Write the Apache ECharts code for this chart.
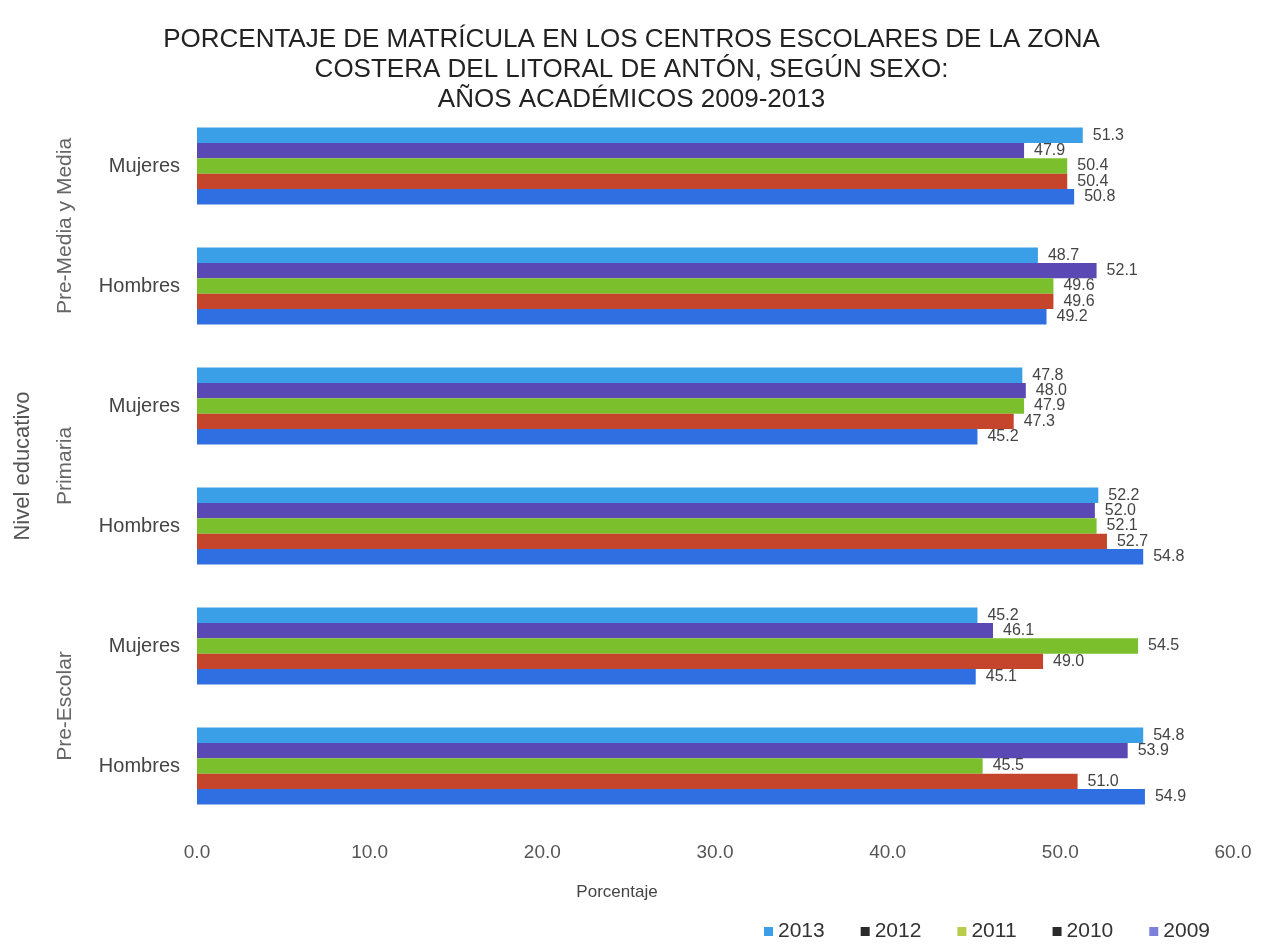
<!DOCTYPE html>
<html>
<head>
<meta charset="utf-8">
<script src="https://cdn.jsdelivr.net/npm/echarts@6/dist/echarts.min.js"></script>
<style>html,body{margin:0;padding:0;background:#fff}#c{width:1263px;height:951px}</style>
</head>
<body>
<div id="c"></div>
<script>
var titleLines = ['PORCENTAJE DE MATRÍCULA EN LOS CENTROS ESCOLARES DE LA ZONA', 'COSTERA DEL LITORAL DE ANTÓN, SEGÚN SEXO:', 'AÑOS ACADÉMICOS 2009-2013'];
var categories = ['Mujeres', 'Hombres', 'Mujeres', 'Hombres', 'Mujeres', 'Hombres'];
var groups = ['Pre-Media y Media', 'Primaria', 'Pre-Escolar'];
var years = ['2013', '2012', '2011', '2010', '2009'];
var v2013 = [51.3, 48.7, 47.8, 52.2, 45.2, 54.8];
var v2012 = [47.9, 52.1, 48.0, 52.0, 46.1, 53.9];
var v2011 = [50.4, 49.6, 47.9, 52.1, 54.5, 45.5];
var v2010 = [50.4, 49.6, 47.3, 52.7, 49.0, 51.0];
var v2009 = [50.8, 49.2, 45.2, 54.8, 45.1, 54.9];
var seriesValues = [v2013, v2012, v2011, v2010, v2009];
var barColors = ['#3a9fe6', '#5a48b4', '#7cbf2c', '#c4452c', '#2f6fe2'];
var legendColors = ['#3a9fe6', '#2b2b2b', '#b9cc4c', '#2b2b2b', '#7b80da'];

var chart = echarts.init(document.getElementById('c'));
var font = 'Liberation Sans, Arial, sans-serif';
chart.setOption({
  animation: false,
  textStyle: {fontFamily: font},
  title: {
    text: titleLines.join('\n'),
    left: 'center', top: 20,
    textStyle: {fontSize: 26, fontWeight: 'normal', color: '#222', lineHeight: 30, fontFamily: font}
  },
  legend: {
    right: 48, bottom: 4,
    itemWidth: 9, itemHeight: 9, itemGap: 36,
    textStyle: {fontSize: 21, color: '#333'},
    data: years.map(function (y, i) { return {name: y, icon: 'rect', itemStyle: {color: legendColors[i]}}; })
  },
  grid: {left: 197, right: 30, top: 106, bottom: 125},
  xAxis: {
    type: 'value', min: 0, max: 60, interval: 10,
    axisLine: {show: false}, axisTick: {show: false}, splitLine: {show: false},
    axisLabel: {fontSize: 19, color: '#555', margin: 17, formatter: function (v) { return v.toFixed(1); }},
    name: 'Porcentaje', nameLocation: 'middle', nameGap: 58,
    nameTextStyle: {fontSize: 17, color: '#444', padding: [0, 196, 0, 0]}
  },
  yAxis: [{
    type: 'category', data: categories, inverse: true,
    axisLine: {show: false}, axisTick: {show: false},
    axisLabel: {fontSize: 20, color: '#444', margin: 17}
  }, {
    type: 'category', data: groups, inverse: true, position: 'left', offset: 117,
    axisLine: {show: false}, axisTick: {show: false},
    axisLabel: {rotate: 90, fontSize: 21, color: '#666', margin: 4},
    name: 'Nivel educativo', nameLocation: 'middle', nameRotate: 90, nameGap: 46,
    nameTextStyle: {fontSize: 22, color: '#555'}
  }],
  series: years.map(function (y, i) {
    return {
      name: y, type: 'bar', yAxisIndex: 0, data: seriesValues[i],
      barGap: '0%', barCategoryGap: '36%',
      itemStyle: {color: barColors[i]},
      label: {show: true, position: 'right', distance: 10, fontSize: 16, color: '#444',
        formatter: function (p) { return p.value.toFixed(1); }}
    };
  })
});
</script>
</body>
</html>
